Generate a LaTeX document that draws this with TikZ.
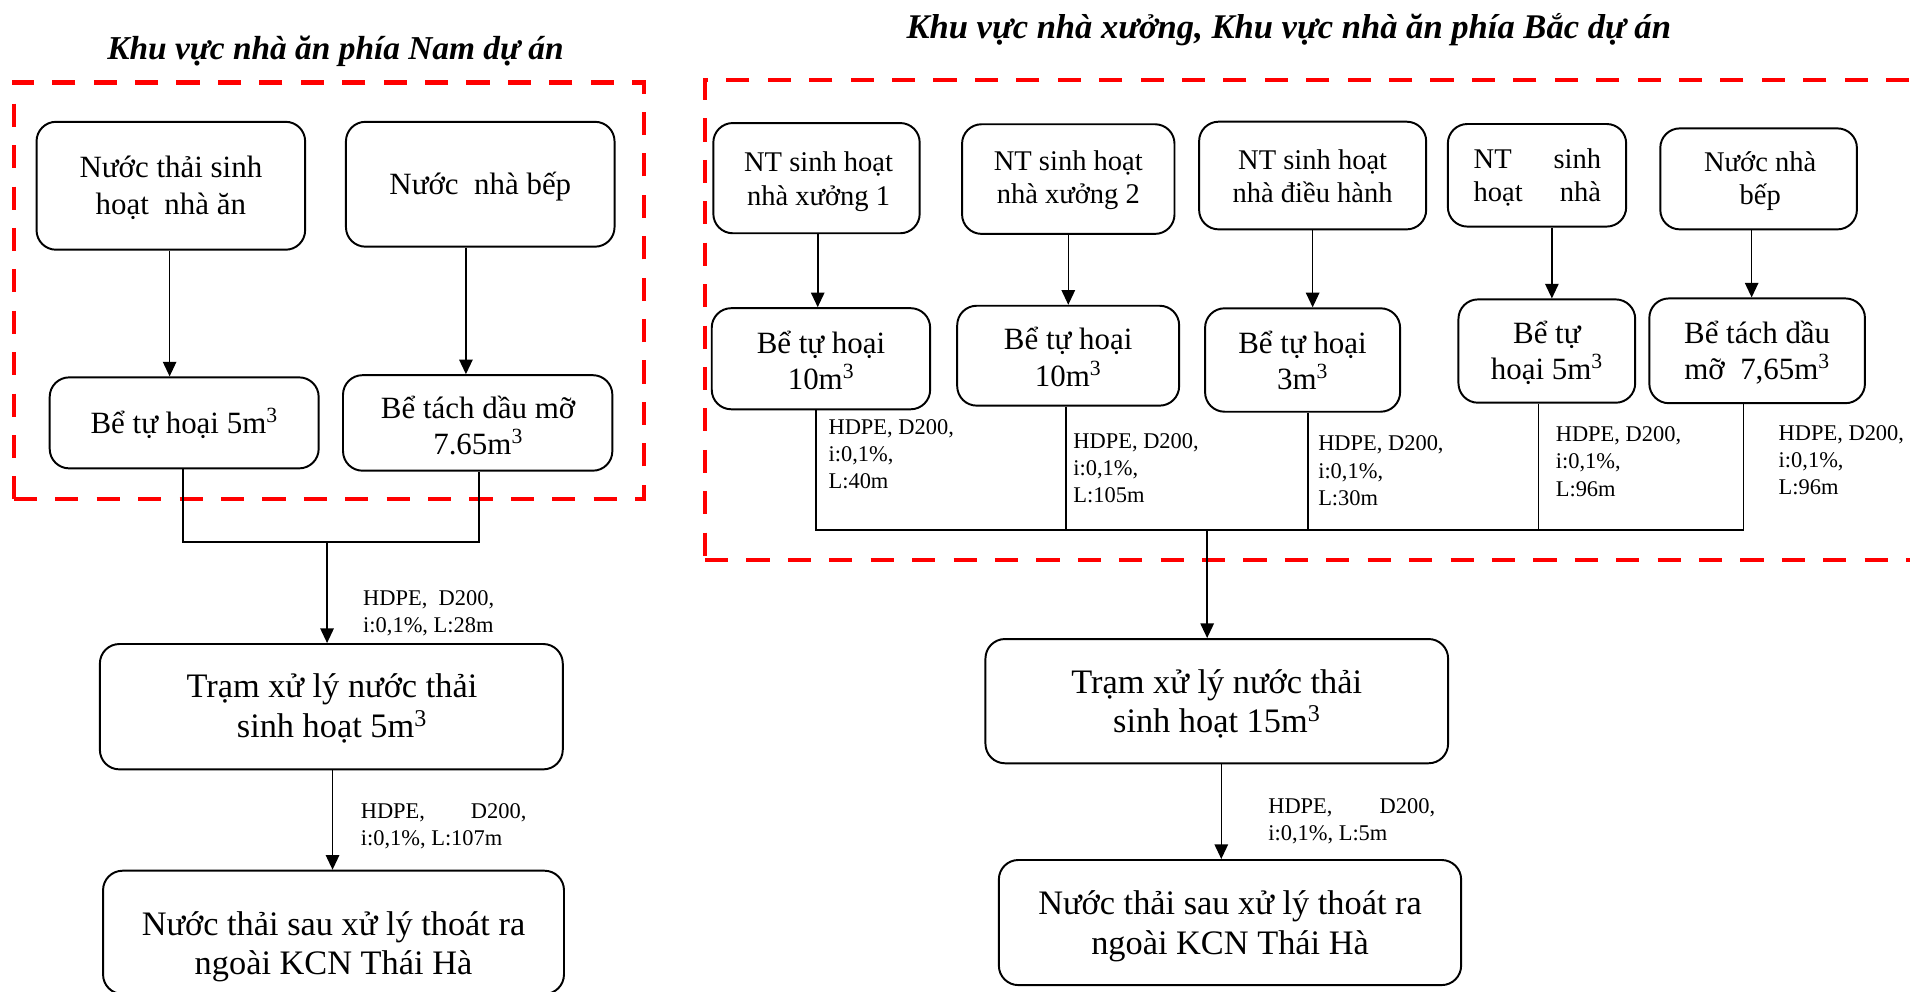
\documentclass[tikz,border=0pt]{standalone}
\usepackage{fontspec}
\setmainfont{Liberation Serif}
\usetikzlibrary{arrows.meta,fit}

% type sizes
\newcommand\szA{\fontsize{25.5}{30}\selectfont}
\newcommand\szG{\fontsize{23.5}{27.5}\selectfont}
\newcommand\szE{\fontsize{28.3}{32.5}\selectfont}
\newcommand\szL{\fontsize{18.5}{22.5}\selectfont}
\newcommand\szT{\fontsize{27.5}{33}\selectfont\bfseries\itshape}
\newcommand\szTN{\fontsize{28.5}{33}\selectfont\bfseries\itshape}
% stacked lines whose reference point is the first baseline
\newcommand\cstack[1]{\begin{tabular}[t]{@{}c@{}}#1\end{tabular}}
\newcommand\lstack[1]{\begin{tabular}[t]{@{}l@{}}#1\end{tabular}}

\tikzset{
  box/.style={draw, line width=1.6bp, rounded corners=16bp, inner sep=0pt},
  zone/.style={draw=red, line width=3.8bp, dash pattern=on 19bp off 15bp, inner sep=0pt},
  pipe/.style={line width=1.3bp},
  arr/.style={pipe, -{Triangle[length=12bp,width=11bp]}},
  txt/.style={inner sep=0pt, anchor=base},
  lbl/.style={inner sep=0pt, anchor=base west, font=\szL},
  ttl/.style={inner sep=0pt, anchor=base, font=\szT},
}

\begin{document}
\begin{tikzpicture}[x=1bp, y=-1bp]
\useasboundingbox (0,0) rectangle (1568,814);

% ---------- titles ----------
\node[ttl] (tS) at (275.5,49) {Khu vực nhà ăn phía Nam dự án};
\node[ttl, font=\szTN] (tN) at (1058,31.5) {Khu vực nhà xưởng, Khu vực nhà ăn phía Bắc dự án};

% ---------- dashed zones ----------
\node[zone, fit={(11.4,67.6) (528.6,409.7)}] (zS) {};
\node[zone, fit={(578.8,65.7) (1590,459.8)}] (zN) {};

% ---------- southern canteen ----------
\node[box, fit={(30,100) (250.5,205)}] (A) {};
\node[box, fit={(284,100) (504.5,202.5)}] (B) {};
\node[box, fit={(40.8,309.8) (261.6,384.5)}] (C) {};
\node[box, fit={(281.6,308) (502.7,386.4)}] (D) {};
\node[box, fit={(82,528.7) (462,631.6)}] (E) {};
\node[box, fit={(84.6,714.8) (463,816)}] (F) {};

\node[txt, font=\szA] (tA) at (140.3,146) {\cstack{Nước thải sinh\\hoạt~~nhà ăn}};
\node[txt, font=\szA] (tB) at (394.3,160) {Nước~~nhà bếp};
\node[txt, font=\szA] (tC) at (151.2,355.8) {Bể tự hoại 5m\textsuperscript{3}};
\node[txt, font=\szA] (tD) at (392.5,343.5) {\cstack{Bể tách dầu mỡ\\7.65m\textsuperscript{3}}};
\node[txt, font=\szE] (tE) at (272.5,573) {\cstack{Trạm xử lý nước thải\\sinh hoạt 5m\textsuperscript{3}}};
\node[txt, font=\szE] (tF) at (273.8,767.6) {\cstack{Nước thải sau xử lý thoát ra\\ngoài KCN Thái Hà}};

\draw[arr] ([xshift=-1bp]A.south) -- ([xshift=-1bp]A.south |- C.north);
\draw[arr] ([xshift=-11.75bp]B.south) -- ([xshift=-11.75bp]B.south |- D.north);

\coordinate (jS) at (268.5,445);
\draw[pipe] ([xshift=-1bp]C.south) -- ([xshift=-1bp]C.south |- jS)
  -- ([xshift=1bp]D.south |- jS) -- ([xshift=1bp]D.south);
\draw[arr] (jS) -- (jS |- E.north);
\draw[arr] ([xshift=1bp]E.south) -- ([xshift=1bp]E.south |- F.north);

\node[lbl] (pS1) at (298,497) {\lstack{HDPE,~~D200,\\i:0,1\%, L:28m}};
\node[lbl] (pS2) at (296,671.6) {\lstack{\makebox[136bp][s]{HDPE,\hfill D200,}\\i:0,1\%, L:107m}};

% ---------- workshops and northern canteen ----------
\node[box, fit={(585.6,101) (755,191.5)}] (G1) {};
\node[box, fit={(789.8,102) (964.2,192)}] (G2) {};
\node[box, fit={(984.4,99.9) (1170.8,188.3)}] (G3) {};
\node[box, fit={(1188.6,101.8) (1335,186)}] (G4) {};
\node[box, fit={(1363,105.4) (1524.4,188.3)}] (G5) {};

\node[box, fit={(584.3,253) (763.6,336)}] (H1) {};
\node[box, fit={(785.8,251) (968,333)}] (H2) {};
\node[box, fit={(989.3,253.1) (1149.4,338)}] (H3) {};
\node[box, fit={(1197.3,245.8) (1342.4,330.6)}] (H4) {};
\node[box, fit={(1354,245) (1531,331)}] (H5) {};

\node[box, fit={(809,524.6) (1188.8,626.6)}] (I) {};
\node[box, fit={(820,706) (1199.5,808.7)}] (J) {};

\node[txt, font=\szG] (tG1) at (672,141) {\cstack{NT sinh hoạt\\nhà xưởng 1}};
\node[txt, font=\szG] (tG2) at (877,140) {\cstack{NT sinh hoạt\\nhà xưởng 2}};
\node[txt, font=\szG] (tG3) at (1077.6,139) {\cstack{NT sinh hoạt\\nhà điều hành}};
\node[inner sep=0pt, anchor=base west, font=\szG] (tG4) at (1209.6,138.2)
  {\lstack{\makebox[104.6bp][s]{NT\hfill sinh}\\\makebox[104.6bp][s]{hoạt\hfill nhà}}};
\node[txt, font=\szG] (tG5) at (1445,140.4) {\cstack{Nước nhà\\bếp}};

\node[txt, font=\szA] (tH1) at (674,290) {\cstack{Bể tự hoại\\10m\textsuperscript{3}}};
\node[txt, font=\szA] (tH2) at (876.9,287) {\cstack{Bể tự hoại\\10m\textsuperscript{3}}};
\node[txt, font=\szA] (tH3) at (1069.3,290) {\cstack{Bể tự hoại\\3m\textsuperscript{3}}};
\node[txt, font=\szA] (tH4) at (1269.9,281.9) {\cstack{Bể tự\\hoại 5m\textsuperscript{3}}};
\node[txt, font=\szA] (tH5) at (1442.5,281.7) {\cstack{Bể tách dầu\\mỡ~~7,65m\textsuperscript{3}}};

\node[txt, font=\szE] (tI) at (998.9,569) {\cstack{Trạm xử lý nước thải\\sinh hoạt 15m\textsuperscript{3}}};
\node[txt, font=\szE] (tJ) at (1009.8,751) {\cstack{Nước thải sau xử lý thoát ra\\ngoài KCN Thái Hà}};

\draw[arr] ([xshift=1bp]G1.south) -- ([xshift=1bp]G1.south |- H1.north);
\draw[arr] (G2.south) -- (G2.south |- H2.north);
\draw[arr] (G3.south) -- (G3.south |- H3.north);
\draw[arr] ([xshift=12.2bp]G4.south) -- ([xshift=12.2bp]G4.south |- H4.north);
\draw[arr] ([xshift=-5.7bp]G5.south) -- ([xshift=-5.7bp]G5.south |- H5.north);

\coordinate (jN) at (991,435);
\draw[pipe] ([xshift=-4.25bp]H1.south) -- ([xshift=-4.25bp]H1.south |- jN)
  -- ([xshift=-11.2bp]H5.south |- jN) -- ([xshift=-11.2bp]H5.south);
\foreach \nm/\sh in {H2/-2, H3/4.65, H4/-6.85}
  \draw[pipe] ([xshift=\sh bp]\nm.south) -- ([xshift=\sh bp]\nm.south |- jN);
\draw[arr] (jN) -- (jN |- I.north);
\draw[arr] ([xshift=3.7bp]I.south) -- ([xshift=3.7bp]I.south |- J.north);

\node[lbl] (pN1) at (680,356.5) {\lstack{HDPE, D200,\\i:0,1\%,\\L:40m}};
\node[lbl] (pN2) at (881,368) {\lstack{HDPE, D200,\\i:0,1\%,\\L:105m}};
\node[lbl] (pN3) at (1082,370) {\lstack{HDPE, D200,\\i:0,1\%,\\L:30m}};
\node[lbl] (pN4) at (1277,362.5) {\lstack{HDPE, D200,\\i:0,1\%,\\L:96m}};
\node[lbl] (pN5) at (1460,361.5) {\lstack{HDPE, D200,\\i:0,1\%,\\L:96m}};
\node[lbl] (pN6) at (1041,667.6) {\lstack{\makebox[137bp][s]{HDPE,\hfill D200,}\\i:0,1\%, L:5m}};
\end{tikzpicture}
\end{document}
